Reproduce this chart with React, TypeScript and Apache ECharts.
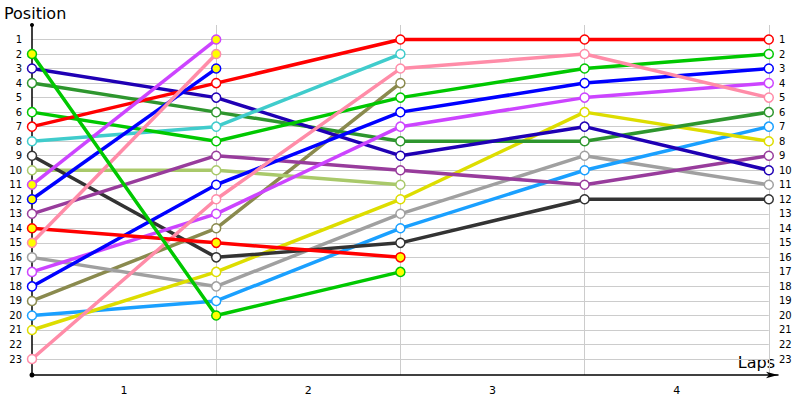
import React, { useEffect, useRef } from "react";
import * as echarts from "echarts";

const laps = [0, 1, 2, 3, 4];
const lapLabels = ["1", "2", "3", "4"];
const positions = Array.from({ length: 23 }, (_, i) => i + 1);

// positions per lap (null = no data)
const redPos = [7, 4, 1, 1, 1];
const greenPos = [6, 8, 5, 3, 2];
const bluePos = [18, 11, 6, 4, 3];
const navyPos = [3, 5, 9, 7, 10];
const darkGreenPos = [4, 6, 8, 8, 6];
const cyanPos = [8, 7, 2, null, null];
const blackPos = [9, 16, 15, 12, 12];
const lightGreenPos = [10, 10, 11, null, null];
const purplePos = [17, 13, 7, 5, 4];
const darkPurplePos = [13, 9, 10, 11, 9];
const pinkPos = [23, 12, 3, 2, 5];
const grayPos = [16, 18, 13, 9, 11];
const olivePos = [19, 14, 4, null, null];
const lightBluePos = [20, 19, 14, 10, 7];
const yellowPos = [21, 17, 12, 6, 8];
// yellow-marked entries
const greenPitPos = [2, 20, 17, null, null];
const purplePitPos = [11, 1, null, null, null];
const pinkPitPos = [15, 2, null, null, null];
const bluePitPos = [12, 3, null, null, null];
const redPitPos = [14, 15, 16, null, null];

const seriesDefs = [
  { name: "Olive", color: "#8a8a4e", pos: olivePos, pit: false },
  { name: "LightGreen", color: "#a9c96a", pos: lightGreenPos, pit: false },
  { name: "Gray", color: "#a0a0a0", pos: grayPos, pit: false },
  { name: "LightBlue", color: "#1aa0ff", pos: lightBluePos, pit: false },
  { name: "Yellow", color: "#dddd00", pos: yellowPos, pit: false },
  { name: "Black", color: "#333333", pos: blackPos, pit: false },
  { name: "DarkPurple", color: "#983c9c", pos: darkPurplePos, pit: false },
  { name: "DarkGreen", color: "#2e962e", pos: darkGreenPos, pit: false },
  { name: "Navy", color: "#1f00b4", pos: navyPos, pit: false },
  { name: "Cyan", color: "#40cccc", pos: cyanPos, pit: false },
  { name: "Purple", color: "#cc44ff", pos: purplePos, pit: false },
  { name: "Blue", color: "#0000ff", pos: bluePos, pit: false },
  { name: "Green", color: "#00c800", pos: greenPos, pit: false },
  { name: "Pink", color: "#ff8ca8", pos: pinkPos, pit: false },
  { name: "Red", color: "#ff0000", pos: redPos, pit: false },
  { name: "RedPit", color: "#ff0000", pos: redPitPos, pit: true },
  { name: "BluePit", color: "#0000ff", pos: bluePitPos, pit: true },
  { name: "PinkPit", color: "#ff8ca8", pos: pinkPitPos, pit: true },
  { name: "PurplePit", color: "#cc44ff", pos: purplePitPos, pit: true },
  { name: "GreenPit", color: "#00c800", pos: greenPitPos, pit: true },
];

const FONT = "DejaVu Sans";

export default function App() {
  const ref = useRef<HTMLDivElement>(null);
  useEffect(() => {
    if (!ref.current) return;
    const chart = echarts.init(ref.current, null, { renderer: "svg" });
    const yMax = 24.1;
    const xMax = 4.05;
    const lastLap = laps[laps.length - 1];

    const gridSeries: any = {
      type: "line",
      data: [],
      silent: true,
      z: 0,
      zlevel: 0,
      markLine: {
        silent: true,
        z: 0,
        symbol: ["none", "none"],
        label: { show: false },
        lineStyle: { color: "#cccccc", width: 1, type: "solid" },
        data: [
          ...positions.map((p) => [
            { coord: [laps[0], p] },
            { coord: [lastLap, p] },
          ]),
          ...laps.slice(1).map((l) => [
            { coord: [l, 0] },
            { coord: [l, yMax] },
          ]),
        ],
      },
    };

    const lineSeries = seriesDefs.map((s) => ({
      name: s.name,
      type: "line",
      data: laps.map((l, i) => (s.pos[i] == null ? [l, null] : [l, s.pos[i]])),
      connectNulls: false,
      symbol: "circle",
      symbolSize: 9,
      showSymbol: true,
      lineStyle: { color: s.color, width: 3.5 },
      itemStyle: {
        color: s.pit ? "#ffff00" : "#ffffff",
        borderColor: s.color,
        borderWidth: 1.5,
      },
      z: 3,
    }));

    chart.setOption({
      animation: false,
      backgroundColor: "#ffffff",
      grid: { left: 32, right: 22, top: 25, bottom: 25, containLabel: false },
      xAxis: {
        type: "value",
        min: 0,
        max: xMax,
        interval: 0.5,
        position: "bottom",
        axisLine: {
          show: true,
          onZero: false,
          lineStyle: { color: "#000000", width: 1.5 },
          symbol: ["circle", "arrow"],
          symbolSize: [5, 12],
        },
        axisTick: { show: false },
        splitLine: { show: false },
        axisLabel: {
          color: "#000000",
          fontFamily: FONT,
          fontSize: 11,
          margin: 10,
          showMaxLabel: false,
          formatter: (v: number) => {
            const idx = Math.round(v * 2);
            if (idx % 2 === 1) {
              const k = (idx - 1) / 2;
              return lapLabels[k] ?? "";
            }
            return "";
          },
        },
      },
      yAxis: [
        {
          type: "value",
          inverse: true,
          min: 0,
          max: yMax,
          interval: 1,
          position: "left",
          axisLine: {
            show: true,
            onZero: false,
            lineStyle: { color: "#000000", width: 1.5 },
            symbol: ["circle", "circle"],
            symbolSize: [4, 4],
          },
          axisTick: { show: false },
          splitLine: { show: false },
          axisLabel: {
            color: "#000000",
            fontFamily: FONT,
            fontSize: 10,
            margin: 10,
            showMaxLabel: false,
            formatter: (v: number) =>
              v >= positions[0] && v <= positions[positions.length - 1] ? String(v) : "",
          },
        },
        {
          type: "value",
          inverse: true,
          min: 0,
          max: yMax,
          interval: 1,
          position: "right",
          axisLine: { show: false, onZero: false },
          axisTick: { show: false },
          splitLine: { show: false },
          axisLabel: {
            color: "#000000",
            fontFamily: FONT,
            fontSize: 10,
            margin: 1,
            showMaxLabel: false,
            formatter: (v: number) =>
              v >= positions[0] && v <= positions[positions.length - 1] ? String(v) : "",
          },
        },
      ],
      graphic: [
        {
          type: "text",
          left: 4,
          top: 5,
          style: {
            text: "Position",
            fontFamily: FONT,
            fontSize: 16,
            fill: "#000000",
          },
        },
        {
          type: "text",
          right: 25,
          top: 354,
          style: {
            text: "Laps",
            fontFamily: FONT,
            fontSize: 16,
            fill: "#000000",
          },
        },
      ],
      series: [gridSeries, ...lineSeries],
    });
    return () => chart.dispose();
  }, []);
  return <div ref={ref} style={{ width: 800, height: 400, position: "absolute", left: 0, top: 0 }} />;
}
